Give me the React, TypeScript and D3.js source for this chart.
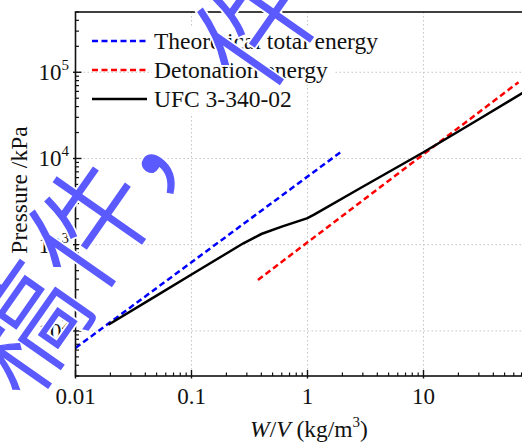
import React from "react";
import * as d3 from "d3";

const W = 522;
const H = 445;

const xDomain = [0.01, 100];
const yDomain = [30, 5e5];
const xMajorTicks = [0.01, 0.1, 1, 10];
const xTickLabels = ["0.01", "0.1", "1", "10"];
const yMajorTicks = [1e2, 1e3, 1e4, 1e5];
const yTickExponents = ["2", "3", "4", "5"];

const theoreticalX = [0.01, 1.98];
const theoreticalY = [63.5, 12150];
const detonationX = [0.374, 66];
const detonationY = [390, 76800];
const ufcX = [0.0192, 0.05, 0.1, 0.2, 0.28, 0.32, 0.4, 0.6, 1.0, 1.15, 2.84, 10, 30, 70, 100];
const ufcY = [118, 257, 451, 790, 1038, 1140, 1330, 1620, 2030, 2250, 4520, 11800, 28500, 56600, 75000];

const seriesNames = ["Theoretical total energy", "Detonation energy", "UFC 3-340-02"];
const seriesColors = ["#0000ff", "#ff0000", "#000000"];
const seriesDash = ["6,3.5", "6,3.5", null];

const watermarkChars = ["稿", "件", "，", "件"];

const ml = 75.5, mr = 539.5, mt = 12, mb = 376;
const FONT = "'Liberation Serif', 'Times New Roman', serif";

export default function App() {
  const x = d3.scaleLog().domain(xDomain).range([ml, mr]);
  const y = d3.scaleLog().domain(yDomain).range([mb, mt]);

  const line = d3
    .line<[number, number]>()
    .x((d) => x(d[0]))
    .y((d) => y(d[1]));

  const series = [
    theoreticalX.map((v, i) => [v, theoreticalY[i]] as [number, number]),
    detonationX.map((v, i) => [v, detonationY[i]] as [number, number]),
    ufcX.map((v, i) => [v, ufcY[i]] as [number, number]),
  ];

  const xMinor: number[] = [];
  [0.01, 0.1, 1, 10].forEach((d) => {
    for (let k = 2; k <= 9; k++) xMinor.push(d * k);
  });
  const yMinor: number[] = [];
  [10, 100, 1e3, 1e4, 1e5].forEach((d) => {
    for (let k = 2; k <= 9; k++) {
      const v = d * k;
      if (v >= yDomain[0] && v <= yDomain[1]) yMinor.push(v);
    }
  });

  const legendRows = [41, 70, 99];
  const legendTextWidths = [228, 178, 141];

  // watermark glyph box centres and sizes (layout only)
  const wmPos: [number, number][] = [
    [18, 324],
    [84, 220],
    [143, 112],
    [252, 18],
  ];
  const wmSize = [120, 120, 135, 120];

  const wmGlyphs = (outline: boolean) =>
    watermarkChars.map((c, i) => (
      <text
        key={(outline ? "wo" : "wf") + i}
        fontSize={wmSize[i]}
        transform={`translate(${wmPos[i][0]},${wmPos[i][1]}) rotate(-55)`}
        textAnchor="middle"
        dominantBaseline="central"
      >
        {c}
      </text>
    ));

  return (
    <svg width={W} height={H} style={{ display: "block", position: "absolute", left: 0, top: 0 }}>
      <defs>
        <clipPath id="plotclip">
          <rect x={ml} y={mt} width={mr - ml} height={mb - mt} />
        </clipPath>
      </defs>
      <rect x={0} y={0} width={W} height={H} fill="#fff" />
      {/* grid */}
      {xMajorTicks.slice(1).map((t) => (
        <line key={"gx" + t} x1={x(t)} x2={x(t)} y1={mt} y2={mb} stroke="#c4c4c4" strokeWidth={1} strokeDasharray="1.5,2.5" />
      ))}
      {yMajorTicks.map((t) => (
        <line key={"gy" + t} x1={ml} x2={mr} y1={y(t)} y2={y(t)} stroke="#c4c4c4" strokeWidth={1} strokeDasharray="1.5,2.5" />
      ))}
      {/* data */}
      <g clipPath="url(#plotclip)">
        {series.map((s, i) => (
          <path
            key={"s" + i}
            d={line(s) || ""}
            fill="none"
            stroke={seriesColors[i]}
            strokeWidth={2.5}
            strokeDasharray={seriesDash[i] || undefined}
          />
        ))}
      </g>
      {/* frame */}
      <rect x={ml} y={mt} width={mr - ml} height={mb - mt} fill="none" stroke="#111" strokeWidth={1.6} />
      {/* x ticks */}
      {xMinor.map((t) => (
        <line key={"xm" + t} x1={x(t)} x2={x(t)} y1={mb} y2={mb - 3.5} stroke="#111" strokeWidth={1.2} />
      ))}
      {xMajorTicks.map((t) => (
        <line key={"xM" + t} x1={x(t)} x2={x(t)} y1={mb + 2.5} y2={mb - 6} stroke="#111" strokeWidth={1.4} />
      ))}
      {yMinor.map((t) => (
        <line key={"ym" + t} x1={ml} x2={ml + 3.5} y1={y(t)} y2={y(t)} stroke="#111" strokeWidth={1.2} />
      ))}
      {yMajorTicks.map((t) => (
        <line key={"yM" + t} x1={ml - 2.5} x2={ml + 6} y1={y(t)} y2={y(t)} stroke="#111" strokeWidth={1.4} />
      ))}
      {/* x tick labels */}
      {xMajorTicks.map((t, i) => (
        <text key={"xl" + t} x={x(t)} y={404} textAnchor="middle" fontFamily={FONT} fontSize={23} fill="#111">
          {xTickLabels[i]}
        </text>
      ))}
      {/* y tick labels */}
      {yMajorTicks.map((t, i) => (
        <text key={"yl" + t} x={69} y={y(t) + 8} textAnchor="end" fontFamily={FONT} fontSize={23} fill="#111">
          10
          <tspan dy={-10} fontSize={15}>
            {yTickExponents[i]}
          </tspan>
        </text>
      ))}
      {/* axis titles */}
      <text transform={`translate(27,190) rotate(-90)`} textAnchor="middle" fontFamily={FONT} fontSize={23.5} fill="#111">
        Pressure /kPa
      </text>
      <text x={309} y={437} textAnchor="middle" fontFamily={FONT} fontSize={23.5} fill="#111">
        <tspan fontStyle="italic">W</tspan>/<tspan fontStyle="italic">V</tspan> (kg/m
        <tspan dy={-10} fontSize={15}>3</tspan>
        <tspan dy={10}>)</tspan>
      </text>
      {/* legend */}
      {legendRows.map((ry, i) => (
        <g key={"lg" + i}>
          <rect x={152} y={ry - 14.5} width={legendTextWidths[i] + 4} height={29} fill="#fff" />
          <line
            x1={92}
            x2={147}
            y1={ry}
            y2={ry}
            stroke={seriesColors[i]}
            strokeWidth={2.5}
            strokeDasharray={seriesDash[i] || undefined}
          />
          <text x={154} y={ry + 7.5} fontFamily={FONT} fontSize={23.5} fill="#111">
            {seriesNames[i]}
          </text>
        </g>
      ))}
      {/* watermark: white halo, then blue glyphs */}
      <g fontFamily="'Noto Sans CJK SC', sans-serif" fontWeight={300} fill="#fff" stroke="#fff" strokeWidth={5}>
        {wmGlyphs(true)}
      </g>
      <g fontFamily="'Noto Sans CJK SC', sans-serif" fontWeight={300} fill="#5a5aff" stroke="#5a5aff" strokeWidth={1.4}>
        {wmGlyphs(false)}
      </g>
    </svg>
  );
}
